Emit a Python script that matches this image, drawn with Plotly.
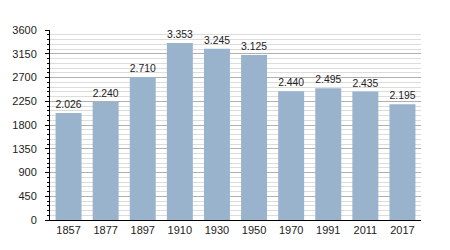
import plotly.graph_objects as go

years = ["1857", "1877", "1897", "1910", "1930", "1950", "1970", "1991", "2011", "2017"]
population = [2026, 2240, 2710, 3353, 3245, 3125, 2440, 2495, 2435, 2195]
y_ticks = [0, 450, 900, 1350, 1800, 2250, 2700, 3150, 3600]

labels = [f"{v:,}".replace(",", ".") for v in population]

fig = go.Figure(go.Bar(
    x=years, y=population, text=labels, textposition="outside",
    textfont=dict(size=11, color="#222", family="Liberation Sans, Arial"),
    marker=dict(color="#9ab3cc", line=dict(width=0)),
    cliponaxis=False,
))

fig.update_layout(
    width=450, height=250,
    margin=dict(l=50, r=29, t=30, b=30),
    paper_bgcolor="white", plot_bgcolor="white",
    bargap=0.3, showlegend=False,
    font=dict(family="Liberation Sans, Arial", size=11, color="#222"),
)
fig.update_xaxes(
    type="category", showline=True, linecolor="black", linewidth=1,
    ticks="", showgrid=False, tickfont=dict(size=11),
)
fig.update_yaxes(
    range=[0, 3600], tickvals=y_ticks, showline=True, linecolor="black", linewidth=1,
    ticks="outside", ticklen=4, tickcolor="black", ticklabelstandoff=6,
    showgrid=True, gridcolor="#b0b0b0", gridwidth=1, zeroline=False,
    tickfont=dict(size=11),
    minor=dict(dtick=90, ticks="outside", ticklen=2, tickcolor="black",
               showgrid=True, gridcolor="#dcdcdc", gridwidth=1),
)

fig.write_html("out.html")
